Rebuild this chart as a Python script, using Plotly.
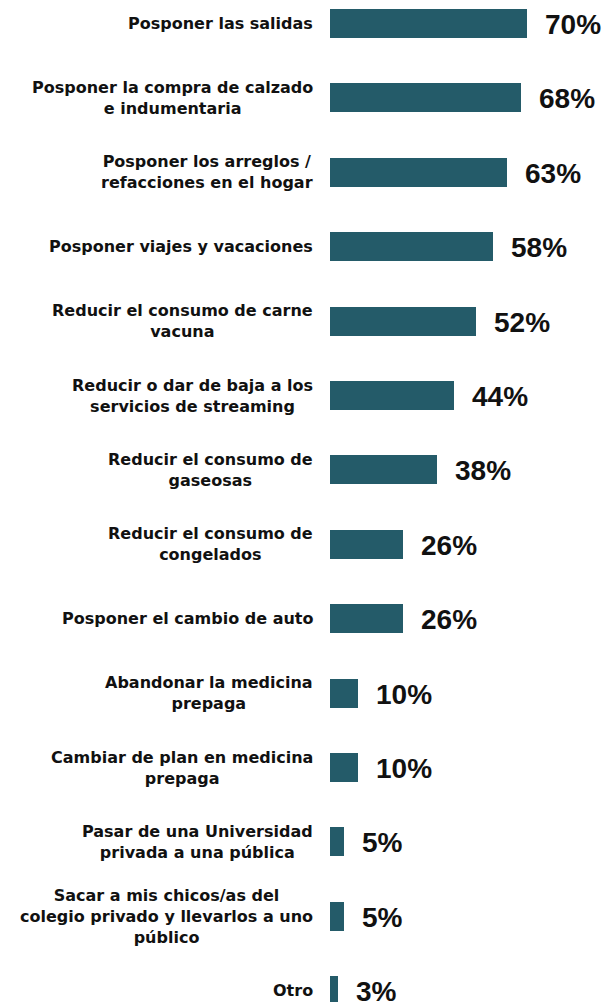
import plotly.graph_objects as go

categories = [
    "Posponer las salidas",
    "Posponer la compra de calzado<br>e indumentaria",
    "Posponer los arreglos /<br>refacciones en el hogar",
    "Posponer viajes y vacaciones",
    "Reducir el consumo de carne<br>vacuna",
    "Reducir o dar de baja a los<br>servicios de streaming",
    "Reducir el consumo de<br>gaseosas",
    "Reducir el consumo de<br>congelados",
    "Posponer el cambio de auto",
    "Abandonar la medicina<br>prepaga",
    "Cambiar de plan en medicina<br>prepaga",
    "Pasar de una Universidad<br>privada a una pública",
    "Sacar a mis chicos/as del<br>colegio privado y llevarlos a uno<br>público",
    "Otro",
]
values = [70, 68, 63, 58, 52, 44, 38, 26, 26, 10, 10, 5, 5, 3]
value_labels = [f"{v}%" for v in values]

BAR = "#245B69"
LABEL_FONT = "DejaVu Sans"
VALUE_FONT = "Liberation Sans"

ypos = list(range(len(categories)))

fig = go.Figure()
fig.add_trace(go.Bar(
    x=values, y=ypos, orientation="h",
    marker=dict(color=BAR, line=dict(width=0)),
    width=0.39, hoverinfo="skip",
))

annotations = []
for i, (c, v, t) in enumerate(zip(categories, values, value_labels)):
    annotations.append(dict(
        x=0, y=i, xref="x", yref="y", text=f"<b>{c}</b>",
        xanchor="right", yanchor="middle", align="center", xshift=-15,
        showarrow=False, font=dict(family=LABEL_FONT, size=16, color="#111111"),
    ))
    annotations.append(dict(
        x=v, y=i, xref="x", yref="y", text=f"<b>{t}</b>",
        xanchor="left", yanchor="middle", xshift=16, yshift=-1,
        showarrow=False, font=dict(family=VALUE_FONT, size=28, color="#111111"),
    ))

fig.update_layout(
    width=605, height=1002,
    margin=dict(l=330, r=0, t=0, b=0),
    paper_bgcolor="white", plot_bgcolor="white",
    showlegend=False,
    bargap=0,
    xaxis=dict(range=[0, 97.7], visible=False, fixedrange=True),
    yaxis=dict(range=[13.152, -0.316], visible=False, fixedrange=True),
    annotations=annotations,
)
fig.write_html(
    "out.html",
    config={"displayModeBar": False, "staticPlot": True},
    post_script="document.body.style.margin='0';document.body.style.overflow='hidden';",
)
